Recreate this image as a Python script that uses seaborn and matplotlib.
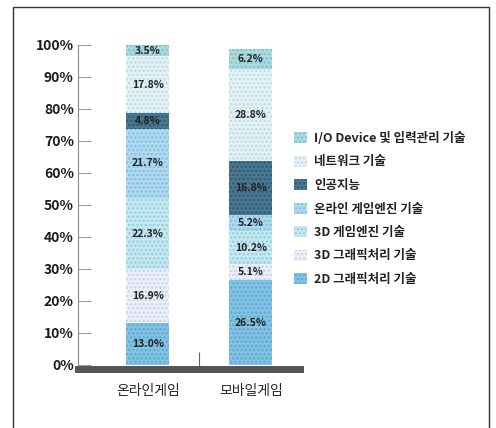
import matplotlib
matplotlib.use("Agg")
import matplotlib.pyplot as plt
import matplotlib.patches as mpatches
import pandas as pd
import seaborn as sns

# categories and series (bottom -> top of the stack)
categories = ['온라인게임', '모바일게임']
techs = ['2D 그래픽처리 기술', '3D 그래픽처리 기술', '3D 게임엔진 기술', '온라인 게임엔진 기술',
         '인공지능', '네트워크 기술', 'I/O Device 및 입력관리 기술']
online_game = [13.0, 16.9, 22.3, 21.7, 4.8, 17.8, 3.5]
mobile_game = [26.5, 5.1, 10.2, 5.2, 16.8, 28.8, 6.2]
yticks = [0, 10, 20, 30, 40, 50, 60, 70, 80, 90, 100]

colors = ['#86c3e3', '#eef1f9', '#c9e9f1', '#b3daee', '#4a7890', '#e6f2f6', '#b1d9e0']
dots = ['#5aaad6', '#c9d2ee', '#8fd0e0', '#7fc0e4', '#2f5a70', '#b8dde8', '#7fc2cf']


def build_frame():
    rows = []
    for cat, vals in zip(categories, [online_game, mobile_game]):
        bottom = 0
        for t, v in zip(techs, vals):
            rows.append({'category': cat, 'tech': t, 'value': v, 'bottom': bottom, 'top': bottom + v})
            bottom += v
    return pd.DataFrame(rows)


def main():
    sns.set_style('white')
    plt.rcParams['font.family'] = ['Noto Sans CJK KR', 'DejaVu Sans']
    plt.rcParams['hatch.linewidth'] = 1.2

    df = build_frame()

    fig = plt.figure(figsize=(4.96, 4.28), dpi=100)
    ax = fig.add_axes([78 / 496, 63 / 428, 222 / 496, 320 / 428])

    # draw cumulative bars from the top series down so they stack
    for i in range(len(techs) - 1, -1, -1):
        sub = df[df['tech'] == techs[i]]
        sns.barplot(data=sub, x='category', y='top', order=categories, color=colors[i],
                    width=0.42, hatch='....', edgecolor=dots[i], linewidth=0,
                    saturation=1, ax=ax, zorder=2)

    for bar in ax.patches:
        bar.set_clip_on(False)

    # value labels
    for _, r in df.iterrows():
        xpos = categories.index(r['category'])
        ax.text(xpos, r['bottom'] + r['value'] / 2, f"{r['value']:.1f}%", ha='center', va='center',
                fontsize=7.5, fontweight='bold', color='#222222', zorder=5)

    ax.set_xlim(-0.68, 1.48)
    ax.set_ylim(0, 100)
    ax.set_yticks(yticks)
    ax.set_yticklabels([f'{v}%' for v in yticks], fontsize=10, fontweight='bold', color='#1a1a1a')
    ax.set_xticks(range(len(categories)))
    ax.set_xticklabels(categories, fontsize=11, fontweight='bold', color='#222222')
    ax.set_xticks([0.5], minor=True)
    ax.tick_params(axis='y', direction='in', length=9, width=0.6, color='#888888', pad=3, left=True)
    ax.tick_params(axis='x', which='major', length=0, pad=11)
    ax.tick_params(axis='x', which='minor', direction='in', length=12, width=0.8, color='#666666', bottom=True)
    ax.set_xlabel('')
    ax.set_ylabel('')

    for s in ['top', 'right']:
        ax.spines[s].set_visible(False)
    ax.spines['left'].set_color('#888888')
    ax.spines['left'].set_linewidth(0.8)
    ax.spines['bottom'].set_color('#555555')
    ax.spines['bottom'].set_linewidth(5)
    ax.spines['bottom'].set_position(('outward', 3))

    # legend, top entry = top of the stack
    handles = [mpatches.Patch(facecolor=colors[i], edgecolor=dots[i], hatch='....', linewidth=0,
                              label=techs[i]) for i in range(len(techs) - 1, -1, -1)]
    leg = fig.legend(handles=handles, loc='upper left', bbox_to_anchor=(289 / 496, 1 - 127 / 428),
                     frameon=False, fontsize=9, handlelength=1.0, handleheight=1.0,
                     handletextpad=0.6, labelspacing=0.84, borderaxespad=0)
    for t in leg.get_texts():
        t.set_fontweight('bold')
        t.set_color('#222222')

    # outer frame
    fig.add_artist(mpatches.Rectangle((13 / 496, -0.01), 476 / 496, 1 - 7 / 428 + 0.01,
                                      transform=fig.transFigure, fill=False,
                                      edgecolor='#333333', linewidth=1))

    plt.savefig('out.png', dpi=100)
    plt.close()


if __name__ == "__main__":
    main()
